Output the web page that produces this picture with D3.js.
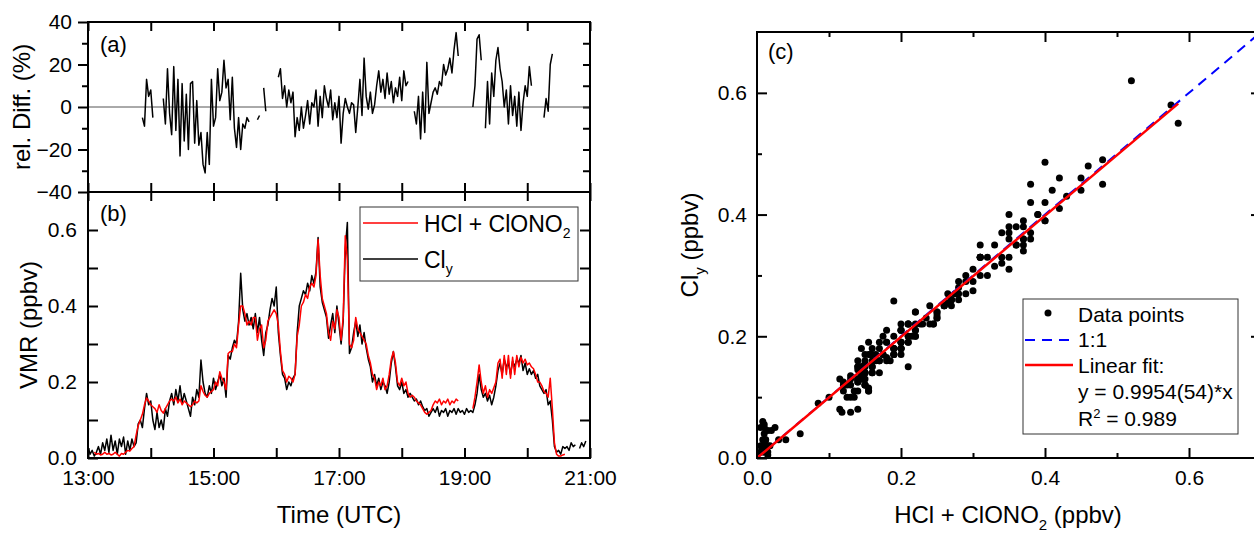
<!DOCTYPE html>
<html>
<head>
<meta charset="utf-8">
<script src="https://cdn.jsdelivr.net/npm/d3@7"></script>
<style>
body { margin: 0; background: #fff; }
svg { display: block; font-family: "Liberation Sans", Arial, sans-serif; overflow: hidden; }
</style>
</head>
<body>
<svg id="chart" width="1254" height="535"></svg>
<script>
// minutes after 13:00 UTC
var timeMin = [0,2,4,6,8,10,12,14,16,18,20,22,24,26,28,30,32,34,36,38,40,42,44,46,48,50,52,54,56,58,
  60,62,64,66,68,70,72,74,76,78,80,82,84,86,88,90,92,94,96,98,100,102,104,106,108,110,112,114,116,118,
  120,122,124,126,128,130,132,134,136,138,140,142,144,146,148,150,152,154,156,158,160,162,164,166,168,170,172,174,176,178,
  180,182,184,186,188,190,192,194,196,198,200,202,204,206,208,210,212,214,216,218,220,222,224,226,228,230,232,234,236,238,
  240,242,244,246,248,250,252,254,256,258,260,262,264,266,268,270,272,274,276,278,280,282,284,286,288,290,292,294,296,298,
  300,302,304,306,308,310,312,314,316,318,320,322,324,326,328,330,332,334,336,338,340,342,344,346,348,350,352,354,356,358,
  360,362,364,366,368,370,372,374,376,378,380,382,384,386,388,390,392,394,396,398,400,402,404,406,408,410,412,414,416,418,
  420,422,424,426,428,430,432,434,436,438,440,442,444,446,448,450,452,454,456,458,460,462,464,466,468,470,472,474,476];

// Cl_y (ppbv)
var cly = [0.03,0.01,0.02,0.005,0.015,0.03,0.01,0.04,0.02,0.05,0.015,0.06,0.02,0.045,0.01,0.05,0.03,0.055,0.01,0.045,0.02,0.05,0.03,0.04,
  0.09,0.1,0.08,0.13,0.17,0.14,0.15,
  0.1,0.075,0.12,0.08,0.1,0.075,0.13,0.11,
  0.15,0.17,0.14,0.18,0.15,0.19,0.145,0.17,0.15,
  0.13,0.11,0.16,0.14,0.18,0.16,
  0.258,
  0.2,0.17,0.16,0.19,0.17,0.21,0.18,0.2,0.22,0.19,0.21,0.16,
  0.27,0.26,0.29,0.31,0.30,0.36,
  0.486,
  0.39,0.36,0.38,0.35,0.37,0.34,
  0.38,0.33,0.37,0.31,0.27,
  0.33,0.35,0.39,0.42,0.40,
  0.45,0.33,0.27,0.22,0.21,0.18,0.20,0.19,0.21,0.22,
  0.33,0.40,0.42,0.44,0.43,0.46,0.44,0.48,0.46,0.49,
  0.58,
  0.45,0.41,0.39,0.37,0.315,0.35,0.38,0.33,0.40,0.35,0.30,0.36,
  0.55,0.62,
  0.275,0.29,0.33,0.36,0.32,0.35,0.30,0.33,0.29,0.26,0.24,0.20,0.22,0.19,0.21,0.18,0.20,0.19,0.17,0.20,0.25,0.28,0.24,0.19,0.18,0.20,
  0.17,0.18,0.16,0.17,0.16,0.15,0.155,0.14,0.15,0.135,0.125,0.13,0.11,0.12,0.13,0.12,0.135,0.11,0.125,0.12,0.13,0.11,0.125,0.12,0.13,0.115,0.13,
  0.12,0.125,0.115,0.13,0.12,0.125,
  0.12,0.14,0.17,0.22,0.18,0.16,0.17,0.15,0.165,0.14,0.16,0.19,
  0.23,0.25,0.22,0.26,0.24,0.25,0.22,0.255,0.24,0.26,0.25,0.27,0.23,0.25,0.22,0.235,0.22,0.23,0.21,0.22,
  0.19,0.18,0.17,0.18,0.14,0.15,0.10,0.03,0.015,0.02,0.01,0.03,0.025,
  0.03,0.02,0.04,0.03,0.035,null,0.025,0.04,0.03,0.045];

// HCl + ClONO2 (ppbv)
var hclClono2 = [null,null,null,0.015,0.01,0.012,0.008,0.01,0.015,0.01,0.012,0.008,0.01,0.015,0.01,0.005,0.012,0.01,0.015,0.02,0.018,0.025,0.03,0.06,
  0.085,0.1,0.115,0.14,0.158,0.15,0.14,
  0.135,0.13,0.12,0.14,0.125,0.118,0.13,0.14,
  0.15,0.155,0.15,0.16,0.145,0.155,0.14,0.15,0.145,
  0.14,0.135,0.14,0.15,0.145,0.15,
  0.19,
  0.175,0.165,0.16,0.17,0.175,0.18,0.2,0.19,0.227,0.21,0.2,0.18,
  0.275,0.28,0.28,0.3,0.29,0.35,
  0.40,
  0.4,0.38,0.35,0.36,0.35,0.37,
  0.37,0.31,0.34,0.35,0.29,
  0.31,0.36,0.37,0.38,0.39,
  0.38,0.35,0.28,0.23,0.22,0.2,0.215,0.21,0.2,0.22,
  0.32,0.35,0.40,0.41,0.43,0.42,0.45,0.46,0.45,0.48,
  0.575,
  0.48,0.42,0.40,0.38,0.33,0.31,0.36,0.34,0.39,0.37,0.31,0.37,
  0.585,0.52,
  0.30,0.29,0.31,0.37,0.34,0.33,0.32,0.31,0.30,0.27,0.25,0.22,0.21,0.18,0.20,0.19,0.21,0.18,0.19,0.22,0.26,0.28,0.25,0.20,0.19,0.21,
  0.19,0.20,0.17,0.16,0.165,0.16,0.15,0.145,0.14,0.13,0.12,0.115,0.12,0.125,0.14,0.15,0.145,0.155,0.14,0.15,0.145,0.155,0.14,0.15,0.145,0.155,0.15,
  null,null,null,null,null,null,
  0.13,0.16,0.20,0.245,0.20,0.17,0.19,0.16,0.18,0.17,0.185,0.2,
  0.25,0.26,0.21,0.27,0.22,0.27,0.21,0.265,0.22,0.27,0.24,0.265,0.25,0.26,0.245,0.25,0.24,0.235,0.22,0.2,
  0.2,0.19,0.175,0.17,0.16,0.21,0.13,0.04,0.01,0.005,0.005,0.008,0.01,
  null,null,null,null,null,null,null,null,null,null];

// relative difference (%)
var relDiff = [null,null,null,null,null,null,null,null,null,null,null,null,null,null,null,null,null,null,null,null,null,null,null,null,null,null,
  -5,-9,13,5,8,-5,null,null,null,null,
  4,-8,18,-3,-13,19,-11,13,-23,11,
  -16,6,-20,11,12,-17,3,-18,-12,-27,
  -31,-12,-27,13,-9,-5,18,3,7,22,
  9,13,-6,14,-10,-19,-5,-20,-8,-10,
  -5,-7,null,null,null,-6,-4,null,9,-2,
  null,null,null,null,null,14,18,4,10,0,
  8,2,7,-14,-5,-11,0,-10,-4,3,
  -8,2,0,8,-9,5,-5,10,4,0,
  8,-6,2,-5,5,-17,-3,4,0,-3,
  2,1,-12,0,13,-4,23,5,-1,7,
  -3,1,10,17,7,13,4,16,6,12,
  2,9,5,14,3,17,10,12,null,null,
  -2,-8,5,-15,7,-12,21,-3,2,7,
  9,6,12,10,20,15,18,23,16,27,
  35,24,null,null,null,null,null,null,0,10,
  32,34,22,null,-10,12,-8,16,5,22,
  28,18,12,0,8,-8,10,-4,5,-9,
  7,-11,2,10,5,19,10,null,null,null,
  null,null,-5,4,-2,20,25,
  null,null,null,null,null,null,null,null,null,null,null,null,null,null,null,null];

var hourTicks = [0,60,120,180,240,300,360,420,480];
var hourLabelTicks = [0,120,240,360,480];
var hourLabels = ["13:00","15:00","17:00","19:00","21:00"];
var fitSlope = 0.9954;

var svg = d3.select("#chart");

var x  = d3.scaleLinear().domain([0, 480]).range([88, 590]);
var ya = d3.scaleLinear().domain([-40, 40]).range([192, 22]);
var yb = d3.scaleLinear().domain([0, 0.7]).range([458, 192]);
var xc = d3.scaleLinear().domain([0, 0.7]).range([757, 1261]);
var yc = d3.scaleLinear().domain([0, 0.7]).range([458, 32]);

/**
 * Draw an axis, drop its domain path and style the ticks.
 */
var drawAxis = function(axis, tx, ty, fontSize) {
    var g = svg.append("g")
               .attr("transform", "translate(" + tx + "," + ty + ")")
               .call(axis);
    g.select(".domain").remove();
    g.selectAll(".tick line").attr("stroke", "#000").attr("stroke-width", 2);
    g.selectAll(".tick text").attr("fill", "#000")
     .attr("font-size", fontSize || 21)
     .attr("font-family", "'Liberation Sans', Arial, sans-serif");
    return g;
};

var fmt1 = d3.format(".1f");
var hourFmt = function(d) { return hourLabels[hourLabelTicks.indexOf(d)]; };

// ---- panel (a)
drawAxis(d3.axisLeft(ya).tickValues([-40,-20,0,20,40]).tickSize(10).tickPadding(6), 88, 0);
drawAxis(d3.axisLeft(ya).tickValues([-30,-10,10,30]).tickSize(6).tickFormat(""), 88, 0);
drawAxis(d3.axisRight(ya).tickValues([-30,-20,-10,0,10,20,30]).tickSize(-7).tickFormat(""), 590, 0);
drawAxis(d3.axisTop(x).tickValues(hourTicks).tickSize(-9).tickFormat(""), 0, 22);
drawAxis(d3.axisBottom(x).tickValues(hourTicks).tickSize(-9).tickFormat(""), 0, 192);

svg.append("line")
   .attr("x1", x(0)).attr("x2", x(480))
   .attr("y1", ya(0)).attr("y2", ya(0))
   .attr("stroke", "#555").attr("stroke-width", 1);

var relPts = timeMin.map(function(t, i) { return {t: t, v: relDiff[i]}; });
svg.append("path")
   .datum(relPts)
   .attr("fill", "none")
   .attr("stroke", "#000")
   .attr("stroke-width", 1.5)
   .attr("stroke-linejoin", "round")
   .attr("d", d3.line().defined(function(d) { return d.v !== null; })
                       .x(function(d) { return x(d.t); })
                       .y(function(d) { return ya(d.v); }));

// ---- panel (b)
drawAxis(d3.axisLeft(yb).tickValues([0,0.2,0.4,0.6]).tickSize(-10).tickPadding(11).tickFormat(fmt1), 88, 0);
drawAxis(d3.axisLeft(yb).tickValues([0.1,0.3,0.5]).tickSize(-10).tickFormat(""), 88, 0);
drawAxis(d3.axisRight(yb).tickValues([0.1,0.2,0.3,0.4,0.5,0.6]).tickSize(-10).tickFormat(""), 590, 0);
drawAxis(d3.axisTop(x).tickValues(hourTicks).tickSize(-9).tickFormat(""), 0, 192);
drawAxis(d3.axisBottom(x).tickValues(hourTicks).tickSize(-10).tickFormat(""), 0, 458);
drawAxis(d3.axisBottom(x).tickValues(hourLabelTicks).tickSize(0).tickPadding(12).tickFormat(hourFmt), 0, 458);

var lineB = d3.line().defined(function(d) { return d.v !== null; })
                     .x(function(d) { return x(d.t); })
                     .y(function(d) { return yb(d.v); });

svg.append("path")
   .datum(timeMin.map(function(t, i) { return {t: t, v: cly[i]}; }))
   .attr("fill", "none").attr("stroke", "#000").attr("stroke-width", 1.5)
   .attr("stroke-linejoin", "round")
   .attr("d", lineB);
svg.append("path")
   .datum(timeMin.map(function(t, i) { return {t: t, v: hclClono2[i]}; }))
   .attr("fill", "none").attr("stroke", "#ff0000").attr("stroke-width", 1.5)
   .attr("stroke-linejoin", "round")
   .attr("d", lineB);

// frames of (a) and (b)
svg.append("rect").attr("x", 88).attr("y", 22).attr("width", 502).attr("height", 436)
   .attr("fill", "none").attr("stroke", "#000").attr("stroke-width", 2);
svg.append("line").attr("x1", 88).attr("x2", 590).attr("y1", 192).attr("y2", 192)
   .attr("stroke", "#000").attr("stroke-width", 2);

// legend (b)
var legB = svg.append("g");
legB.append("rect").attr("x", 360).attr("y", 207).attr("width", 218).attr("height", 74)
    .attr("fill", "#fff").attr("stroke", "#333").attr("stroke-width", 1);
legB.append("line").attr("x1", 363).attr("x2", 418).attr("y1", 223).attr("y2", 223)
    .attr("stroke", "#ff0000").attr("stroke-width", 1.5);
legB.append("line").attr("x1", 363).attr("x2", 418).attr("y1", 259).attr("y2", 259)
    .attr("stroke", "#000").attr("stroke-width", 1.5);
var tB1 = legB.append("text").attr("x", 424).attr("y", 232).attr("font-size", 23);
tB1.append("tspan").text("HCl + ClONO");
tB1.append("tspan").attr("font-size", 14).attr("dy", 6).text("2");
var tB2 = legB.append("text").attr("x", 424).attr("y", 268).attr("font-size", 23);
tB2.append("tspan").text("Cl");
tB2.append("tspan").attr("font-size", 14).attr("dy", 6).text("y");

// labels (a), (b)
svg.append("text").attr("x", 100).attr("y", 52).attr("font-size", 22).text("(a)");
svg.append("text").attr("x", 100).attr("y", 221).attr("font-size", 22).text("(b)");

svg.append("text").attr("transform", "translate(30,107) rotate(-90)")
   .attr("text-anchor", "middle").attr("font-size", 24).text("rel. Diff. (%)");
svg.append("text").attr("transform", "translate(37,325) rotate(-90)")
   .attr("text-anchor", "middle").attr("font-size", 24).text("VMR (ppbv)");
svg.append("text").attr("x", 339).attr("y", 523)
   .attr("text-anchor", "middle").attr("font-size", 24).text("Time (UTC)");

// ---- panel (c)
drawAxis(d3.axisBottom(xc).tickValues([0,0.2,0.4,0.6]).tickSize(-10).tickPadding(12).tickFormat(fmt1), 0, 458);
drawAxis(d3.axisBottom(xc).tickValues([0.1,0.3,0.5]).tickSize(-5).tickFormat(""), 0, 458);
drawAxis(d3.axisTop(xc).tickValues([0.2,0.4,0.6]).tickSize(-10).tickFormat(""), 0, 32);
drawAxis(d3.axisTop(xc).tickValues([0.1,0.3,0.5]).tickSize(-5).tickFormat(""), 0, 32);
drawAxis(d3.axisLeft(yc).tickValues([0,0.2,0.4,0.6]).tickSize(-10).tickPadding(10).tickFormat(fmt1), 757, 0);
drawAxis(d3.axisLeft(yc).tickValues([0.1,0.3,0.5]).tickSize(-5).tickFormat(""), 757, 0);
drawAxis(d3.axisRight(yc).tickValues([0.2,0.4,0.6]).tickSize(-10).tickFormat(""), 1261, 0);
drawAxis(d3.axisRight(yc).tickValues([0.1,0.3,0.5]).tickSize(-5).tickFormat(""), 1261, 0);

var pairs = [];
timeMin.forEach(function(t, i) {
    if (cly[i] !== null && hclClono2[i] !== null) pairs.push({h: hclClono2[i], c: cly[i]});
});

svg.append("g").selectAll("circle")
   .data(pairs)
   .join("circle")
   .attr("cx", function(d) { return xc(d.h); })
   .attr("cy", function(d) { return yc(d.c); })
   .attr("r", 3.5)
   .attr("fill", "#000");

svg.append("line")
   .attr("x1", xc(0)).attr("y1", yc(0))
   .attr("x2", xc(0.7)).attr("y2", yc(0.7))
   .attr("stroke", "#0000ff").attr("stroke-width", 2)
   .attr("stroke-dasharray", "10,7");

var fitMax = d3.max(pairs, function(d) { return d.h; });
svg.append("line")
   .attr("x1", xc(0)).attr("y1", yc(0))
   .attr("x2", xc(fitMax)).attr("y2", yc(fitSlope * fitMax))
   .attr("stroke", "#ff0000").attr("stroke-width", 2.5);

svg.append("rect").attr("x", 757).attr("y", 32).attr("width", 504).attr("height", 426)
   .attr("fill", "none").attr("stroke", "#000").attr("stroke-width", 2);

svg.append("text").attr("x", 768).attr("y", 59).attr("font-size", 22).text("(c)");

// legend (c)
var legC = svg.append("g");
legC.append("rect").attr("x", 1023).attr("y", 299).attr("width", 215).attr("height", 135)
    .attr("fill", "#fff").attr("stroke", "#333").attr("stroke-width", 1);
legC.append("circle").attr("cx", 1048).attr("cy", 313).attr("r", 3.5).attr("fill", "#000");
legC.append("line").attr("x1", 1025).attr("x2", 1073).attr("y1", 340).attr("y2", 340)
    .attr("stroke", "#0000ff").attr("stroke-width", 2).attr("stroke-dasharray", "10,7");
legC.append("line").attr("x1", 1025).attr("x2", 1073).attr("y1", 365).attr("y2", 365)
    .attr("stroke", "#ff0000").attr("stroke-width", 2.5);
legC.append("text").attr("x", 1078).attr("y", 322).attr("font-size", 21).text("Data points");
legC.append("text").attr("x", 1078).attr("y", 347).attr("font-size", 21).text("1:1");
legC.append("text").attr("x", 1078).attr("y", 373).attr("font-size", 21).text("Linear fit:");
legC.append("text").attr("x", 1078).attr("y", 399).attr("font-size", 21).text("y = 0.9954(54)*x");
var r2 = legC.append("text").attr("x", 1078).attr("y", 426).attr("font-size", 21);
r2.append("tspan").text("R");
r2.append("tspan").attr("font-size", 13).attr("dy", -8).text("2");
r2.append("tspan").attr("dy", 8).text(" = 0.989");

var yTitle = svg.append("text").attr("transform", "translate(698,245) rotate(-90)")
   .attr("text-anchor", "middle").attr("font-size", 24);
yTitle.append("tspan").text("Cl");
yTitle.append("tspan").attr("font-size", 15).attr("dy", 7).text("y");
yTitle.append("tspan").attr("dy", -7).text(" (ppbv)");

var xTitle = svg.append("text").attr("x", 1008).attr("y", 523)
   .attr("text-anchor", "middle").attr("font-size", 24);
xTitle.append("tspan").text("HCl + ClONO");
xTitle.append("tspan").attr("font-size", 15).attr("dy", 7).text("2");
xTitle.append("tspan").attr("dy", -7).text(" (ppbv)");
</script>
</body>
</html>
